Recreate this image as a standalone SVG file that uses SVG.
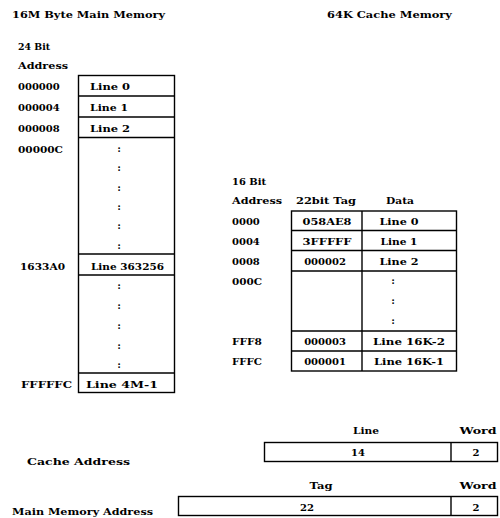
<svg xmlns="http://www.w3.org/2000/svg" width="500" height="518" viewBox="0 0 500 518">
<style>
text{font-family:"DejaVu Serif","Liberation Serif",serif;font-weight:bold;font-size:10px;fill:#000}
.c{text-anchor:middle}
.b{fill:none;stroke:#000;stroke-width:1.4}
.l{stroke:#000;stroke-width:1.4}
</style>
<rect width="500" height="518" fill="#fff"/>
<g id="titles">
<text x="12" y="18" textLength="153" lengthAdjust="spacingAndGlyphs">16M Byte Main Memory</text>
<text x="327" y="18" textLength="125" lengthAdjust="spacingAndGlyphs">64K Cache Memory</text>
</g>
<g id="main-memory">
<text x="18" y="50" textLength="32" lengthAdjust="spacingAndGlyphs">24 Bit</text>
<text x="18" y="69" textLength="50" lengthAdjust="spacingAndGlyphs">Address</text>
<text x="18" y="90">000000</text>
<text x="18" y="111">000004</text>
<text x="18" y="132">000008</text>
<text x="18" y="153" textLength="45" lengthAdjust="spacingAndGlyphs">00000C</text>
<text x="20" y="270" textLength="45" lengthAdjust="spacingAndGlyphs">1633A0</text>
<text x="21" y="388" textLength="51" lengthAdjust="spacingAndGlyphs">FFFFFC</text>
<rect class="b" x="78.5" y="75.5" width="96" height="317"/>
<line class="l" x1="78.5" y1="96" x2="174.5" y2="96"/>
<line class="l" x1="78.5" y1="117" x2="174.5" y2="117"/>
<line class="l" x1="78.5" y1="137.5" x2="174.5" y2="137.5"/>
<line class="l" x1="78.5" y1="254" x2="174.5" y2="254"/>
<line class="l" x1="78.5" y1="275" x2="174.5" y2="275"/>
<line class="l" x1="78.5" y1="373" x2="174.5" y2="373"/>
<text x="90" y="90" textLength="40" lengthAdjust="spacingAndGlyphs">Line 0</text>
<text x="90" y="111" textLength="38" lengthAdjust="spacingAndGlyphs">Line 1</text>
<text x="90" y="132" textLength="40" lengthAdjust="spacingAndGlyphs">Line 2</text>
<text x="91" y="270" textLength="73" lengthAdjust="spacingAndGlyphs">Line 363256</text>
<text x="86" y="388" textLength="72" lengthAdjust="spacingAndGlyphs">Line 4M-1</text>
<g class="c">
<text x="119" y="152">:</text>
<text x="119" y="171">:</text>
<text x="119" y="191">:</text>
<text x="119" y="210">:</text>
<text x="119" y="229">:</text>
<text x="119" y="249">:</text>
<text x="119" y="289">:</text>
<text x="119" y="309">:</text>
<text x="119" y="329">:</text>
<text x="119" y="349">:</text>
<text x="119" y="368">:</text>
</g>
</g>
<g id="cache-memory">
<text x="232" y="185" textLength="34" lengthAdjust="spacingAndGlyphs">16 Bit</text>
<text x="232" y="204" textLength="50" lengthAdjust="spacingAndGlyphs">Address</text>
<text x="296" y="204" textLength="60" lengthAdjust="spacingAndGlyphs">22bit Tag</text>
<text x="386" y="204" textLength="28" lengthAdjust="spacingAndGlyphs">Data</text>
<text x="232" y="225">0000</text>
<text x="232" y="245">0004</text>
<text x="232" y="265">0008</text>
<text x="232" y="285" textLength="30" lengthAdjust="spacingAndGlyphs">000C</text>
<text x="232" y="345" textLength="30" lengthAdjust="spacingAndGlyphs">FFF8</text>
<text x="232" y="365" textLength="30" lengthAdjust="spacingAndGlyphs">FFFC</text>
<rect class="b" x="291.5" y="211" width="165" height="160"/>
<line class="l" x1="362" y1="211" x2="362" y2="371"/>
<line class="l" x1="291.5" y1="230.5" x2="456.5" y2="230.5"/>
<line class="l" x1="291.5" y1="250.5" x2="456.5" y2="250.5"/>
<line class="l" x1="291.5" y1="271" x2="456.5" y2="271"/>
<line class="l" x1="291.5" y1="331" x2="456.5" y2="331"/>
<line class="l" x1="291.5" y1="351" x2="456.5" y2="351"/>
<g class="c">
<text x="327" y="225" textLength="49" lengthAdjust="spacingAndGlyphs">058AE8</text>
<text x="327" y="245" textLength="49" lengthAdjust="spacingAndGlyphs">3FFFFF</text>
<text x="325" y="265">000002</text>
<text x="325" y="345">000003</text>
<text x="325" y="365">000001</text>
<text x="399" y="225" textLength="39" lengthAdjust="spacingAndGlyphs">Line 0</text>
<text x="399" y="245" textLength="37" lengthAdjust="spacingAndGlyphs">Line 1</text>
<text x="399" y="265" textLength="39" lengthAdjust="spacingAndGlyphs">Line 2</text>
<text x="409" y="345" textLength="72" lengthAdjust="spacingAndGlyphs">Line 16K-2</text>
<text x="409" y="365" textLength="70" lengthAdjust="spacingAndGlyphs">Line 16K-1</text>
<text x="393" y="284">:</text>
<text x="393" y="304">:</text>
<text x="393" y="324">:</text>
</g>
</g>
<g id="cache-address">
<text x="27" y="465" textLength="103" lengthAdjust="spacingAndGlyphs">Cache Address</text>
<text class="c" x="366" y="434" textLength="26" lengthAdjust="spacingAndGlyphs">Line</text>
<text class="c" x="478" y="434" textLength="37" lengthAdjust="spacingAndGlyphs">Word</text>
<rect class="b" x="264.5" y="442.5" width="233" height="19"/>
<line class="l" x1="451" y1="442.5" x2="451" y2="461.5"/>
<text class="c" x="358" y="456">14</text>
<text class="c" x="476" y="456">2</text>
</g>
<g id="main-memory-address">
<text x="12" y="515" textLength="141" lengthAdjust="spacingAndGlyphs">Main Memory Address</text>
<text class="c" x="321" y="489" textLength="23" lengthAdjust="spacingAndGlyphs">Tag</text>
<text class="c" x="478" y="489" textLength="37" lengthAdjust="spacingAndGlyphs">Word</text>
<rect class="b" x="178.5" y="496.5" width="319" height="19"/>
<line class="l" x1="451" y1="496.5" x2="451" y2="515.5"/>
<text class="c" x="307" y="511">22</text>
<text class="c" x="476" y="511">2</text>
</g>
<g id="connectors"/>
</svg>
